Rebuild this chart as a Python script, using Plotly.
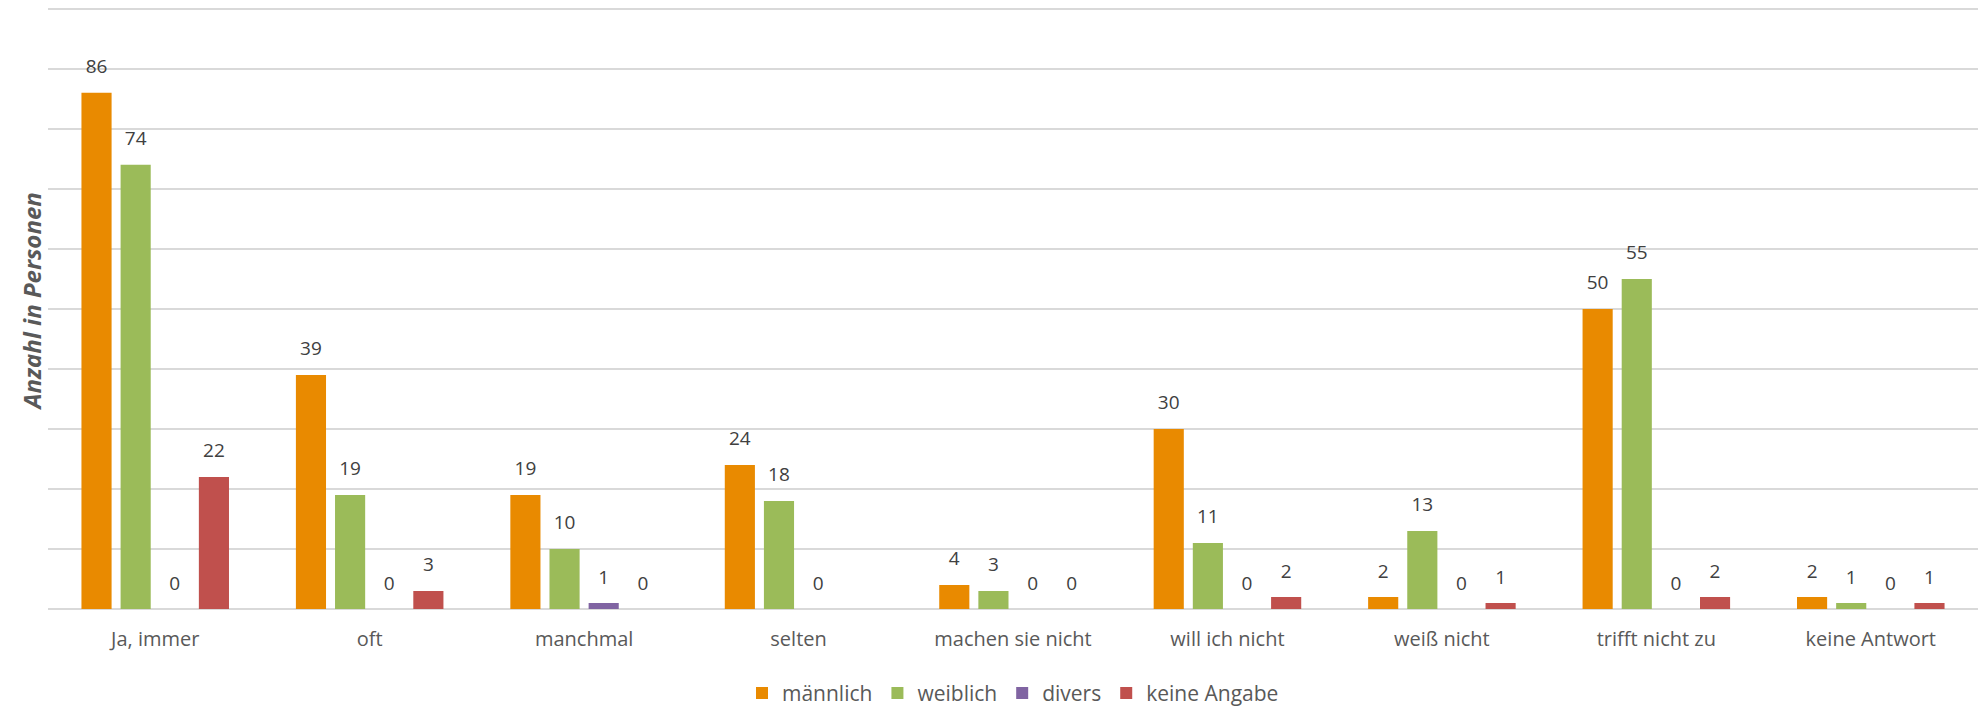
import plotly.graph_objects as go

categories = ["Ja, immer", "oft", "manchmal", "selten", "machen sie nicht",
              "will ich nicht", "weiß nicht", "trifft nicht zu", "keine Antwort"]
maennlich = [86, 39, 19, 24, 4, 30, 2, 50, 2]
weiblich = [74, 19, 10, 18, 3, 11, 13, 55, 1]
divers = [0, 0, 1, 0, 0, 0, 0, 0, 0]
keine_angabe = [22, 3, 0, None, 0, 2, 1, 2, 1]

series = [
    ("männlich", maennlich, "#E98A00"),
    ("weiblich", weiblich, "#9BBB59"),
    ("divers", divers, "#8064A2"),
    ("keine Angabe", keine_angabe, "#C0504D"),
]

FONT = "Open Sans"
TEXT = "#404040"
GAP = 0.27

fig = go.Figure()
for name, vals, color in series:
    fig.add_trace(go.Bar(
        name=name, x=categories, y=vals, offsetgroup=name,
        marker=dict(color=color, line=dict(width=0)),
    ))
# value labels: grouped scatter so they sit above the matching bar
for name, vals, color in series:
    fig.add_trace(go.Scatter(
        x=categories, y=vals, offsetgroup=name, mode="markers+text",
        text=["" if v is None else str(v) for v in vals],
        textposition="top center",
        textfont=dict(family=FONT, size=19, color=TEXT),
        marker=dict(size=22, color="rgba(0,0,0,0)"),
        showlegend=False, hoverinfo="skip", cliponaxis=False,
    ))

fig.update_layout(
    width=1982, height=706,
    barmode="group", bargap=GAP, bargroupgap=0.23,
    scattermode="group", scattergap=GAP,
    plot_bgcolor="white", paper_bgcolor="white",
    margin=dict(l=48, r=4, t=7, b=97, autoexpand=False),
    font=dict(family=FONT, color=TEXT),
    showlegend=True,
    legend=dict(orientation="h", x=0.5, xanchor="center",
                yref="container", y=0.018, yanchor="middle",
                font=dict(size=21, color="#595959"), itemwidth=30, traceorder="normal"),
    annotations=[dict(
        text="<b><i>Anzahl in Personen</i></b>", textangle=-90,
        xref="paper", yref="paper", x=-0.0085, y=0.51, xanchor="center", yanchor="middle",
        showarrow=False, font=dict(size=24, color="#595959"),
    )],
)
fig.update_yaxes(
    range=[0, 100.3], dtick=10, showticklabels=False, showgrid=True,
    gridcolor="#D9D9D9", gridwidth=1.5, zeroline=True, zerolinecolor="#D9D9D9",
    zerolinewidth=1.5, automargin=False,
)
fig.update_xaxes(
    showline=False, ticks="", tickfont=dict(size=20, color="#595959"),
    ticklabelstandoff=16, automargin=False,
)

fig.write_html("out.html", config={"displayModeBar": False},
               post_script="document.body.style.margin='0';")
